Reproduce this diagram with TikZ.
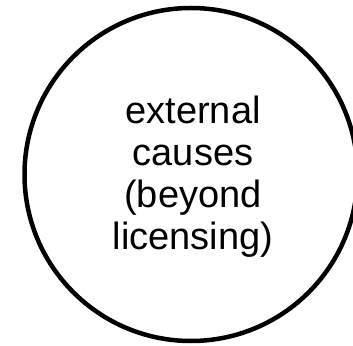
\documentclass[tikz,border=0pt]{standalone}
\usepackage{fontspec}
\setmainfont{Liberation Sans}
\begin{document}
\begin{tikzpicture}[x=1pt,y=1pt,
  causecircle/.style={draw=black,line width=4.5pt,circle,minimum size=333pt,inner sep=0pt},
  causetext/.style={align=center,font=\fontsize{38}{42}\selectfont,text=black}]
\useasboundingbox (0,0) rectangle (353,345);
\node[causecircle] (c) at (191,170.5) {};
\node[causetext] (t) at (193,168) {external\\causes\\(beyond\\licensing)};
\end{tikzpicture}
\end{document}
